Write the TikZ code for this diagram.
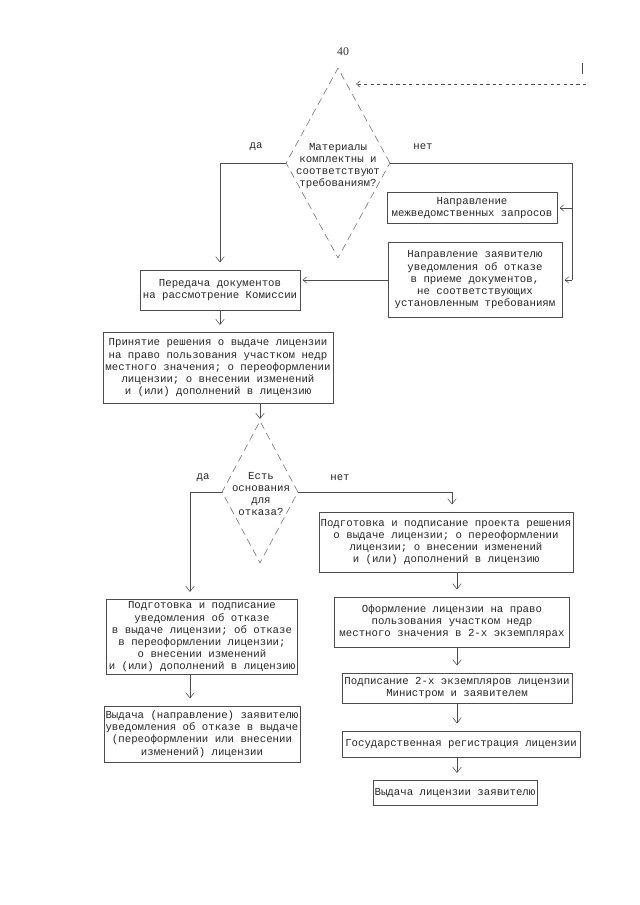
\documentclass[tikz,border=0pt]{standalone}
\usepackage{fontspec}
\setmainfont{Liberation Serif}
\setmonofont{Liberation Mono}
\usetikzlibrary{shapes.geometric,arrows.meta,positioning,calc}

\newcommand{\px}{0.328mm}
\newcommand{\tw}{\ttfamily\fontsize{10}{11.4}\selectfont}

\begin{document}
\begin{tikzpicture}[
  x=0.328mm, y=-0.328mm,
  line/.style={draw=black!70, line width=0.5pt},
  arr/.style={line, -{Straight Barb[length=5pt,width=8pt]}, shorten >=2.4mm},
  larr/.style={line, -{Straight Barb[length=3.5pt,width=6pt]}, shorten >=0.8mm},
  box/.style={rectangle, draw=black!70, line width=0.5pt, align=center,
              font=\tw, text=black!85, inner sep=1.5pt},
  wh/.style 2 args={minimum width=#1*\px, minimum height=#2*\px},
  decision/.style={diamond, draw=black!60, line width=0.5pt,
                   dash pattern=on 2.4mm off 1.5mm, inner sep=0pt},
  dtext/.style={align=center, font=\tw, text=black!85, inner sep=0pt},
  answer/.style={font=\tw, text=black!85},
]
  \useasboundingbox (0,0) rectangle (640,905);
  \node[font=\fontsize{11}{13}\selectfont, text=black!80] (pnum) at (343,52) {40};

  % continuation from the previous page
  \coordinate (prevTop) at (582,63);
  \coordinate (prevBot) at (582,74);
  \draw[line] (prevTop) -- (prevBot);
  \coordinate (prevIn) at (586,84);
  \coordinate (prevEnd) at (356,84);
  \draw[larr, dashed, shorten >=0pt] (prevIn) -- (prevEnd);

  % FIRST CHECK: are the materials complete
  \node[decision, wh={104}{190}] (mat) at (338,163) {};
  \node[dtext] (matText) at (338,166)
       {Материалы\\комплектны и\\соответствуют\\требованиям?};
  \node[answer] (da1) at (256,147) {да};
  \node[answer] (net1) at (423,147) {нет};

  \node[box, wh={160}{40}] (pered) at (220,290)
       {Передача документов\\на рассмотрение Комиссии};
  \node[box, wh={170}{31}] (zapr) at (472,208)
       {Направление\\межведомственных запросов};
  \node[box, wh={174}{75}] (otkaz) at (475,280)
       {Направление заявителю\\уведомления об отказе\\в приеме документов,\\
        не соответствующих\\установленным требованиям};

  \draw[arr] (mat.west) -| (pered.north);
  \coordinate (rail) at (572,163);
  \draw[line] (mat.east) -- (rail) -- (rail |- otkaz.east);
  \draw[larr] (rail |- zapr.east) -- (zapr.east);
  \draw[larr] (rail |- otkaz.east) -- (otkaz.east);
  \draw[larr] (otkaz.west) -- (otkaz.west -| pered.east);

  % SECOND CHECK: grounds for refusal
  \node[box, wh={230}{71}] (prin) at (218,368)
       {Принятие решения о выдаче лицензии\\на право пользования участком недр\\
        местного значения; о переоформлении\\лицензии; о внесении изменений\\
        и (или) дополнений в лицензию};
  \draw[arr] (pered.south) -- (pered.south |- prin.north);

  \node[decision, wh={76}{142}] (osn) at (260,492) {};
  \node[dtext] (osnText) at (261,494) {Есть\\основания\\для\\отказа?};
  \draw[arr, shorten >=0.6mm] (prin.south -| osn.north) -- (osn.north);
  \node[answer] (da2) at (203,478) {да};
  \node[answer] (net2) at (340,478) {нет};

  % LEFT: refusal
  \node[box, wh={191}{75}] (podgL) at (202,637)
       {Подготовка и подписание\\уведомления об отказе\\в выдаче лицензии; об отказе\\
        в переоформлении лицензии;\\о внесении изменений\\и (или) дополнений в лицензию};
  \node[box, wh={191}{56}] (vydL) at (202,734)
       {Выдача (направление) заявителю\\уведомления об отказе в выдаче\\
        (переоформлении или внесении\\изменений) лицензии};
  \coordinate (daTurn) at (190,492);
  \draw[arr] (osn.west) -- (daTurn) -- (daTurn |- podgL.north);
  \draw[arr] (podgL.south -| daTurn) -- (vydL.north -| daTurn);

  % RIGHT: issuing the licence
  \node[box, wh={248}{60}] (podgR) at (446,542)
       {Подготовка и подписание проекта решения\\о выдаче лицензии; о переоформлении\\
        лицензии; о внесении изменений\\и (или) дополнений в лицензию};
  \node[box, wh={235}{50}] (ofor) at (452,622)
       {Оформление лицензии на право\\пользования участком недр\\
        местного значения в 2-х экземплярах};
  \node[box, wh={230}{30}] (podp) at (457,688)
       {Подписание 2-х экземпляров лицензии\\Министром и заявителем};
  \node[box, wh={238}{26}] (gos) at (461,744)
       {Государственная регистрация лицензии};
  \node[box, wh={146}{25}] (vydR) at (455,793)
       {Выдача лицензии заявителю};

  \coordinate (netTurn) at (452,492);
  \coordinate (colR) at (457,0);
  \draw[arr] (osn.east) -- (netTurn) -- (netTurn |- podgR.north);
  \foreach \a/\b in {podgR/ofor, ofor/podp, podp/gos, gos/vydR}
    \draw[arr] (\a.south -| colR) -- (\b.north -| colR);

\end{tikzpicture}
\end{document}
